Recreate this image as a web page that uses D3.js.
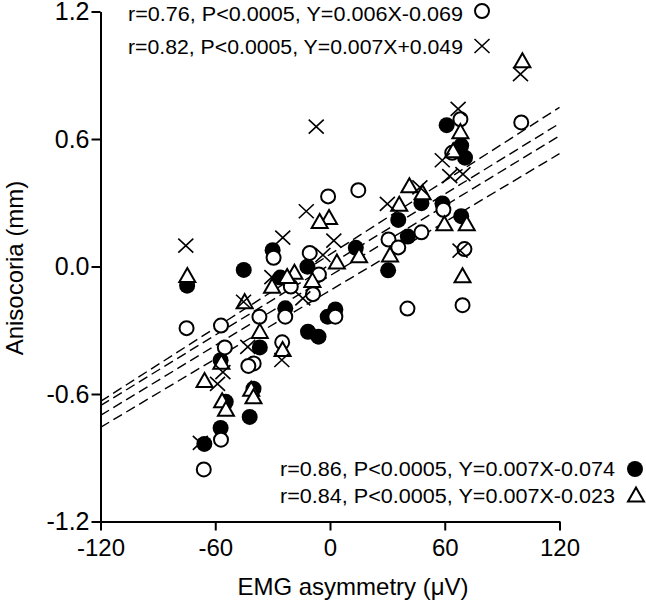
<!DOCTYPE html>
<html><head><meta charset="utf-8">
<script src="https://cdn.jsdelivr.net/npm/d3@7/dist/d3.min.js"></script>
<style>body{margin:0;background:#fff}svg{display:block}text{font-family:"Liberation Sans",Arial,sans-serif;fill:#000}</style>
</head><body>
<svg id="c" width="646" height="602"></svg>
<script>
// ---- data ----
const xTicks = [-120, -60, 0, 60, 120];
const xTickLabels = ["-120", "-60", "0", "60", "120"];
const yTicks = [1.2, 0.6, 0.0, -0.6, -1.2];
const yTickLabels = ["1.2", "0.6", "0.0", "-0.6", "-1.2"];

const openCircles = [
  [100, 0.678], [68.2, 0.693], [63.9, 0.535], [59.3, 0.267], [70.3, 0.082], [69.3, -0.182],
  [47.8, 0.161], [40.5, -0.198], [30.6, 0.127], [35.7, 0.09], [14.8, 0.359], [-1, 0.33],
  [-5.8, -0.038], [-10.6, 0.064], [-8.9, -0.13], [2.8, -0.236], [-29.5, 0.041], [-23.4, -0.236],
  [-25, -0.357], [-20.5, -0.094], [-36.9, -0.237], [-39.9, -0.456], [-42.7, -0.468], [-55, -0.381],
  [-57, -0.278], [-75, -0.29], [-57, -0.815], [-66, -0.955]
];
const filledCircles = [
  [61, 0.665], [68.6, 0.569], [70.6, 0.512], [58.8, 0.297], [68.6, 0.237], [47.8, 0.298],
  [35.7, 0.219], [40.7, 0.141], [30.4, -0.018], [13.5, 0.088], [2.8, -0.202], [-1.2, -0.236],
  [-11.5, -0.307], [-6, -0.33], [-11.8, -0.001], [-30, 0.077], [-23.4, -0.197], [-26, -0.052],
  [-45.1, -0.016], [-74.7, -0.09], [-36.7, -0.381], [-40, -0.575], [-42, -0.708], [-57.2, -0.441],
  [-54.5, -0.637], [-57.2, -0.76], [-65.7, -0.835]
];
const triangles = [
  [100.6, 0.963], [68.2, 0.63], [64.4, 0.54], [59.8, 0.196], [71.5, 0.196], [69.3, -0.048],
  [41.5, 0.375], [48.4, 0.342], [36.2, 0.288], [31.4, 0.05], [15.2, 0.046], [3.6, 0.016],
  [-0.5, 0.226], [-5.4, 0.207], [-9.2, -0.07], [-18.6, -0.032], [-22.4, -0.052], [-30.3, -0.098],
  [-24.8, -0.395], [-36.7, -0.31], [-44.6, -0.17], [-74.6, -0.047], [-56.8, -0.455], [-65.6, -0.541],
  [-56.4, -0.636], [-54.4, -0.677], [-41.2, -0.582], [-40, -0.618]
];
const crosses = [
  [99.6, 0.905], [67, 0.742], [58.7, 0.5], [62.6, 0.425], [69.5, 0.435], [68, 0.075],
  [47, 0.372], [30, 0.295], [-7.2, 0.658], [-12.4, 0.26], [2, 0.122], [-24.7, 0.136],
  [-75.4, 0.098], [-30.4, -0.05], [-3.7, 0.054], [-14.2, -0.15], [-45.2, -0.166], [-43, -0.378],
  [-25.2, -0.44], [-58.8, -0.552], [-67.8, -0.83], [-56, -0.497]
];
// fitted dashed lines as drawn: [y at x=-120, y at x=120]
const fitLineX = [-120, 120];
const fitLines = [
  [-0.635, 0.749],
  [-0.655, 0.673],
  [-0.701, 0.615],
  [-0.757, 0.531]
];
const legendTexts = [
  "r=0.76, P<0.0005, Y=0.006X-0.069",
  "r=0.82, P<0.0005, Y=0.007X+0.049",
  "r=0.86, P<0.0005, Y=0.007X-0.074",
  "r=0.84, P<0.0005, Y=0.007X-0.023"
];
const xTitle = "EMG asymmetry (\u03bcV)";
const yTitle = "Anisocoria (mm)";

// ---- drawing ----
const svg = d3.select("#c");
const x = d3.scaleLinear().domain([-120, 120]).range([100.5, 559.5]);
const y = d3.scaleLinear().domain([-1.2, 1.2]).range([521.5, 11.5]);

// axes
const xAxis = d3.axisBottom(x).tickValues(xTicks).tickFormat((d, i) => xTickLabels[i]).tickSize(9).tickSizeOuter(0).tickPadding(8);
const yAxis = d3.axisLeft(y).tickValues(yTicks).tickFormat((d, i) => yTickLabels[i]).tickSize(9).tickSizeOuter(0).tickPadding(2);
const gx = svg.append("g").attr("transform", `translate(0,${y(-1.2)})`).call(xAxis);
const gy = svg.append("g").attr("transform", `translate(${x(-120)},0)`).call(yAxis);
[gx, gy].forEach(g => {
  g.select(".domain").attr("stroke", "#000").attr("stroke-width", 2);
  g.selectAll(".tick line").attr("stroke", "#000").attr("stroke-width", 2);
  g.selectAll(".tick text").attr("font-family", "Liberation Sans, Arial, sans-serif").attr("fill", "#000");
});
gx.selectAll(".tick text").attr("font-size", 24);
gy.selectAll(".tick text").attr("font-size", 25);

// titles
svg.append("text").attr("x", 353).attr("y", 595).attr("text-anchor", "middle").attr("font-size", 24).text(xTitle);
svg.append("text").attr("transform", `translate(23,${268}) rotate(-90)`).attr("text-anchor", "middle").attr("font-size", 24).text(yTitle);

// fitted lines
svg.append("g").selectAll("line").data(fitLines).join("line")
  .attr("x1", x(fitLineX[0])).attr("x2", x(fitLineX[1]))
  .attr("y1", d => y(d[0])).attr("y2", d => y(d[1]))
  .attr("stroke", "#000").attr("stroke-width", 1.4).attr("stroke-dasharray", "10,5");

// marker makers
const triPath = "M0,-8.5L8,5.5L-8,5.5Z";
const crossPath = "M-7.5,-7L7.5,7M-7.5,7L7.5,-7";
function drawFilled(g, pts) {
  g.selectAll("circle").data(pts).join("circle").attr("cx", d => x(d[0])).attr("cy", d => y(d[1]))
    .attr("r", 8).attr("fill", "#000");
}
function drawOpen(g, pts) {
  g.selectAll("circle").data(pts).join("circle").attr("cx", d => x(d[0])).attr("cy", d => y(d[1]))
    .attr("r", 7).attr("fill", "#fff").attr("stroke", "#000").attr("stroke-width", 2);
}
function drawTri(g, pts) {
  g.selectAll("path").data(pts).join("path").attr("transform", d => `translate(${x(d[0])},${y(d[1])})`)
    .attr("d", triPath).attr("fill", "#fff").attr("stroke", "#000").attr("stroke-width", 2);
}
function drawCross(g, pts) {
  g.selectAll("path").data(pts).join("path").attr("transform", d => `translate(${x(d[0])},${y(d[1])})`)
    .attr("d", crossPath).attr("fill", "none").attr("stroke", "#000").attr("stroke-width", 1.6);
}
drawFilled(svg.append("g"), filledCircles);
drawOpen(svg.append("g"), openCircles);
drawTri(svg.append("g"), triangles);
drawCross(svg.append("g"), crosses);

// legends
const lg = [
  {t: legendTexts[0], tx: 128, ty: 21, sx: 482, sy: 11, kind: "open"},
  {t: legendTexts[1], tx: 128, ty: 54, sx: 482, sy: 46, kind: "cross"},
  {t: legendTexts[2], tx: 280, ty: 476, sx: 635, sy: 469, kind: "filled"},
  {t: legendTexts[3], tx: 280, ty: 503, sx: 636, sy: 496, kind: "tri"}
];
lg.forEach(l => {
  svg.append("text").attr("x", l.tx).attr("y", l.ty).attr("font-size", 19.5)
    .attr("textLength", 335).attr("lengthAdjust", "spacingAndGlyphs").text(l.t);
  const g = svg.append("g");
  const pt = [[x.invert(l.sx), y.invert(l.sy)]];
  if (l.kind === "open") drawOpen(g, pt);
  if (l.kind === "filled") drawFilled(g, pt);
  if (l.kind === "tri") drawTri(g, pt);
  if (l.kind === "cross") drawCross(g, pt);
});
</script>
</body></html>
